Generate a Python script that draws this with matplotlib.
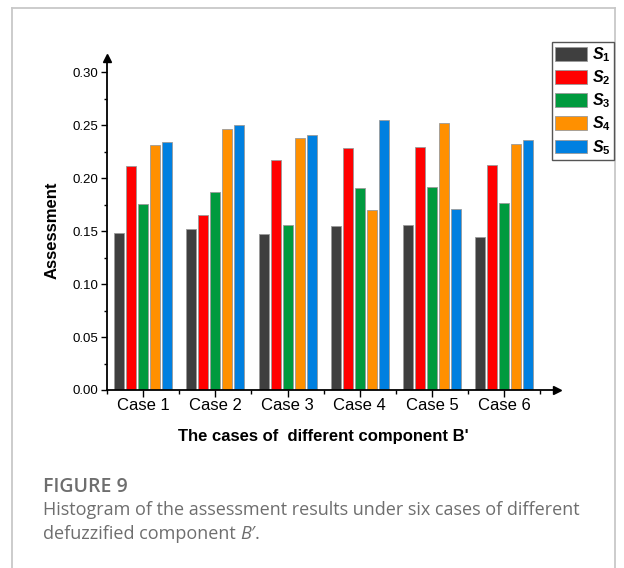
import matplotlib
matplotlib.use("Agg")
import matplotlib.pyplot as plt
import numpy as np
from matplotlib.lines import Line2D
from matplotlib.ticker import FixedLocator, FormatStrFormatter

# ---- data -------------------------------------------------------------
cases = ["Case 1", "Case 2", "Case 3", "Case 4", "Case 5", "Case 6"]
series_names = ["S1", "S2", "S3", "S4", "S5"]
s1 = [0.148, 0.152, 0.147, 0.155, 0.156, 0.144]
s2 = [0.211, 0.165, 0.217, 0.228, 0.229, 0.212]
s3 = [0.176, 0.187, 0.156, 0.191, 0.192, 0.177]
s4 = [0.231, 0.246, 0.238, 0.170, 0.252, 0.232]
s5 = [0.234, 0.250, 0.241, 0.255, 0.171, 0.236]
colors = ["#3f3f3f", "#ff0000", "#009a3e", "#ff9000", "#0080e0"]

plt.rcParams["font.family"] = ["Liberation Sans", "DejaVu Sans"]
plt.rcParams["mathtext.fontset"] = "custom"
plt.rcParams["mathtext.it"] = "Liberation Sans:italic:bold"
plt.rcParams["mathtext.rm"] = "Liberation Sans:bold"

W, H = 624, 568
fig = plt.figure(figsize=(W / 100, H / 100), dpi=100)


def fx(px):
    return px / W


def fy(py):
    return 1 - py / H


# page frame around figure + caption
frame_kw = dict(transform=fig.transFigure, color="#c8c8c8", lw=1.3)
fig.add_artist(Line2D([fx(12), fx(12)], [fy(8), fy(568)], **frame_kw))
fig.add_artist(Line2D([fx(12), fx(615)], [fy(8), fy(8)], **frame_kw))
fig.add_artist(Line2D([fx(615), fx(615)], [fy(8), fy(568)], **frame_kw))

# axes: plotting area runs x 107..557 px, y 58..390 px (arrows included)
left, right, top, bottom = 107, 557, 58, 390
ax = fig.add_axes([fx(left), fy(bottom), (right - left) / W, (bottom - top) / H])
px_per_unit_y = 1059.3
group_px = 72.2
ax.set_ylim(0, (bottom - top) / px_per_unit_y)
ax.set_xlim(-0.5, -0.5 + (right - left) / group_px)

x = np.arange(len(cases))
step = 12 / group_px
width = 10 / group_px
all_series = [s1, s2, s3, s4, s5]
labels = [r"$\mathit{S}_{\mathit{%d}}$" % (i + 1) for i in range(len(series_names))]
for i, (vals, c, lab) in enumerate(zip(all_series, colors, labels)):
    ax.bar(x + (i - 2) * step, vals, width, color=c, edgecolor="#9a9a9a",
           linewidth=0.6, label=lab, zorder=2)

for s in ["top", "right"]:
    ax.spines[s].set_visible(False)
for s in ["left", "bottom"]:
    ax.spines[s].set_linewidth(1.3)
ax.plot(1, 0, ">k", markersize=6, transform=ax.transAxes, clip_on=False)
ax.plot(0, 1, "^k", markersize=6, transform=ax.transAxes, clip_on=False)

ax.yaxis.set_major_locator(FixedLocator([0, 0.05, 0.10, 0.15, 0.20, 0.25, 0.30]))
ax.yaxis.set_minor_locator(FixedLocator(np.arange(0.025, 0.30, 0.05)))
ax.yaxis.set_major_formatter(FormatStrFormatter("%.2f"))
ax.set_xticks(x)
ax.set_xticklabels(cases, fontsize=12)
ax.xaxis.set_minor_locator(FixedLocator(np.arange(-0.5, 5.6, 1.0)))
ax.tick_params(axis="y", which="major", direction="out", length=4, width=1, labelsize=9.5, pad=2)
ax.tick_params(axis="y", which="minor", direction="out", length=2.5, width=1)
ax.tick_params(axis="x", which="major", direction="out", length=5, width=1, pad=1)
ax.tick_params(axis="x", which="minor", direction="out", length=3, width=1)

fig.text(fx(52), fy(230), "Assessment", rotation=90, fontsize=12, fontweight="bold",
         ha="center", va="center")
fig.text(fx(323.5), fy(437), "The cases of  different component B'", fontsize=12,
         fontweight="bold", ha="center", va="center")

leg = fig.legend(loc="upper left", bbox_to_anchor=(fx(552), fy(42)), fontsize=11.5,
                 handlelength=2.0, handleheight=0.95, labelspacing=0.28,
                 handletextpad=0.3, borderpad=0.2, borderaxespad=0,
                 fancybox=False, framealpha=1, edgecolor="#555555")
leg.get_frame().set_linewidth(1.0)

# caption
cap_color = "#6e6e6e"
cap_font = ["Open Sans", "DejaVu Sans"]
fig.text(fx(43), fy(487), "FIGURE 9", fontsize=14, color=cap_color, family=cap_font,
         fontweight="semibold", ha="left", va="center")
fig.text(fx(43), fy(510), "Histogram of the assessment results under six cases of different",
         fontsize=13, color=cap_color, family=cap_font, ha="left", va="center")
t1 = fig.text(fx(43), fy(534), "defuzzified component ", fontsize=13, color=cap_color,
              family=cap_font, ha="left", va="center")
fig.canvas.draw()
bb = t1.get_window_extent()
t2 = fig.text(bb.x1 / W, fy(534), "B\u2032", fontsize=13, color=cap_color,
              family=cap_font, style="italic", ha="left", va="center")
bb2 = t2.get_window_extent()
fig.text(bb2.x1 / W, fy(534), ".", fontsize=13, color=cap_color,
         family=cap_font, ha="left", va="center")

fig.savefig("out.png", dpi=100)
